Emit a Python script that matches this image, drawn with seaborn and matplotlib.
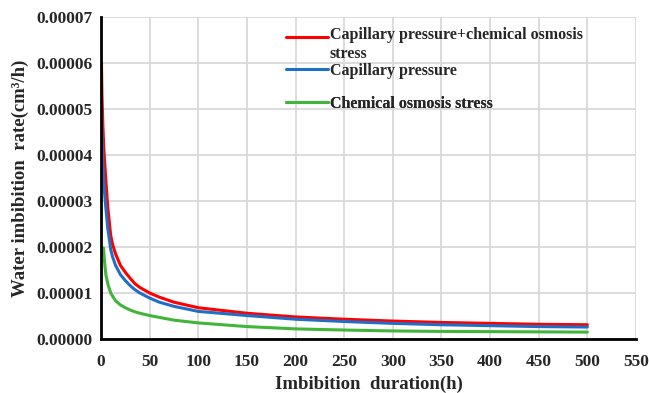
import matplotlib
matplotlib.use("Agg")
import matplotlib.pyplot as plt
import seaborn as sns
import pandas as pd

# Data (time in h, rate in cm^3/h)
t_red = [0.5, 1, 2, 3, 5, 7, 10, 12, 15, 20, 25, 30, 35, 40, 50, 60, 75, 100, 150, 200, 250, 300, 350, 400, 450, 500]
v_red = [6.0e-5, 5.3e-5, 4.6e-5, 4.1e-5, 3.45e-5, 2.85e-5, 2.25e-5, 2.05e-5, 1.85e-5, 1.6e-5, 1.45e-5, 1.32e-5,
         1.2e-5, 1.12e-5, 1.0e-5, 0.91e-5, 0.8e-5, 0.68e-5, 0.56e-5, 0.48e-5, 0.43e-5, 0.39e-5, 0.36e-5,
         0.34e-5, 0.32e-5, 0.31e-5]

t_blue = [0.5, 1, 2, 3, 5, 7, 10, 12, 15, 20, 25, 30, 35, 40, 50, 60, 75, 100, 150, 200, 250, 300, 350, 400, 450, 500]
v_blue = [5.0e-5, 4.4e-5, 3.8e-5, 3.35e-5, 2.85e-5, 2.4e-5, 1.95e-5, 1.78e-5, 1.6e-5, 1.4e-5, 1.27e-5, 1.16e-5,
          1.07e-5, 1.0e-5, 0.89e-5, 0.8e-5, 0.71e-5, 0.60e-5, 0.51e-5, 0.43e-5, 0.38e-5, 0.34e-5, 0.31e-5,
          0.29e-5, 0.27e-5, 0.26e-5]

t_green = [0.5, 1.5, 2.5, 4, 5, 7, 10, 12, 15, 20, 25, 30, 35, 40, 50, 60, 75, 100, 150, 200, 250, 300, 350, 400, 450, 500]
v_green = [1.8e-5, 1.95e-5, 1.98e-5, 1.6e-5, 1.4e-5, 1.2e-5, 1.0e-5, 0.93e-5, 0.83e-5, 0.74e-5, 0.68e-5, 0.63e-5,
           0.59e-5, 0.56e-5, 0.51e-5, 0.47e-5, 0.41e-5, 0.35e-5, 0.27e-5, 0.22e-5, 0.195e-5, 0.175e-5, 0.165e-5,
           0.16e-5, 0.155e-5, 0.15e-5]

series_names = ["Capillary pressure+chemical osmosis\nstress",
                "Capillary pressure",
                "Chemical osmosis stress"]
colors = ["#ff0000", "#1f6fc6", "#41b53a"]

x_ticks = list(range(0, 551, 50))
y_ticks = [0.0, 0.00001, 0.00002, 0.00003, 0.00004, 0.00005, 0.00006, 0.00007]
y_tick_labels = ["0.00000", "0.00001", "0.00002", "0.00003", "0.00004", "0.00005", "0.00006", "0.00007"]

df = pd.concat([
    pd.DataFrame({"t": t_red, "v": v_red, "s": series_names[0]}),
    pd.DataFrame({"t": t_blue, "v": v_blue, "s": series_names[1]}),
    pd.DataFrame({"t": t_green, "v": v_green, "s": series_names[2]}),
], ignore_index=True)

sns.set_style("white")
plt.rcParams["font.family"] = ["Liberation Serif", "DejaVu Serif"]
plt.rcParams["font.weight"] = "bold"

fig = plt.figure(figsize=(6.49, 3.93), dpi=100)
ax = fig.add_axes([0.1556, 0.1374, 0.8244, 0.8193])

sns.lineplot(data=df, x="t", y="v", hue="s", hue_order=series_names,
             palette=dict(zip(series_names, colors)), linewidth=2.2, ax=ax,
             sort=False, estimator=None, legend=True)

ax.set_xlim(0, 550)
ax.set_ylim(0, 0.00007)
ax.set_xticks(x_ticks)
ax.set_xticklabels([str(x) for x in x_ticks], fontsize=12.5, fontweight="bold")
ax.set_yticks(y_ticks)
ax.set_yticklabels(y_tick_labels, fontsize=12.5, fontweight="bold")
ax.grid(True, color="#d9d9d9", linewidth=1.3)
ax.set_axisbelow(True)
for side in ["top", "right"]:
    ax.spines[side].set_visible(False)
for side in ["left", "bottom"]:
    ax.spines[side].set_color("black")
    ax.spines[side].set_linewidth(2)
ax.tick_params(axis="x", direction="in", length=4, width=1.5, color="black", pad=10.5)
ax.tick_params(axis="y", direction="in", length=4, width=1.5, color="black", pad=6)

ax.set_xlabel("Imbibition  duration(h)", fontsize=13.5, fontweight="bold")
ax.xaxis.set_label_coords(0.5, -0.113)
ax.set_ylabel("Water imbibition  rate(cm³/h)", fontsize=13.5, fontweight="bold")
ax.yaxis.set_label_coords(-0.135, 0.5)

handles, labels = ax.get_legend_handles_labels()
ax.get_legend().remove()

leg_x = 286 / 649
leg_centers = [44.5, 71, 104]
legs = []
for h, l, yc in zip(handles, labels, leg_centers):
    lg = ax.legend([h], [l], loc="center left", bbox_to_anchor=(leg_x, 1 - yc / 393),
                   bbox_transform=fig.transFigure, frameon=False, borderpad=0,
                   borderaxespad=0, prop={"weight": "bold", "size": 11.5},
                   handlelength=2.6, handletextpad=0.15)
    for line in lg.get_lines():
        line.set_linewidth(2.2)
    legs.append(lg)
    ax.add_artist(lg)

# lift the first handle to align with the first text line
first_line = legs[0].get_lines()[0]
yd = first_line.get_ydata()
first_line.set_ydata([y + 6.0 for y in yd])

fig.savefig("out.png", dpi=100)
